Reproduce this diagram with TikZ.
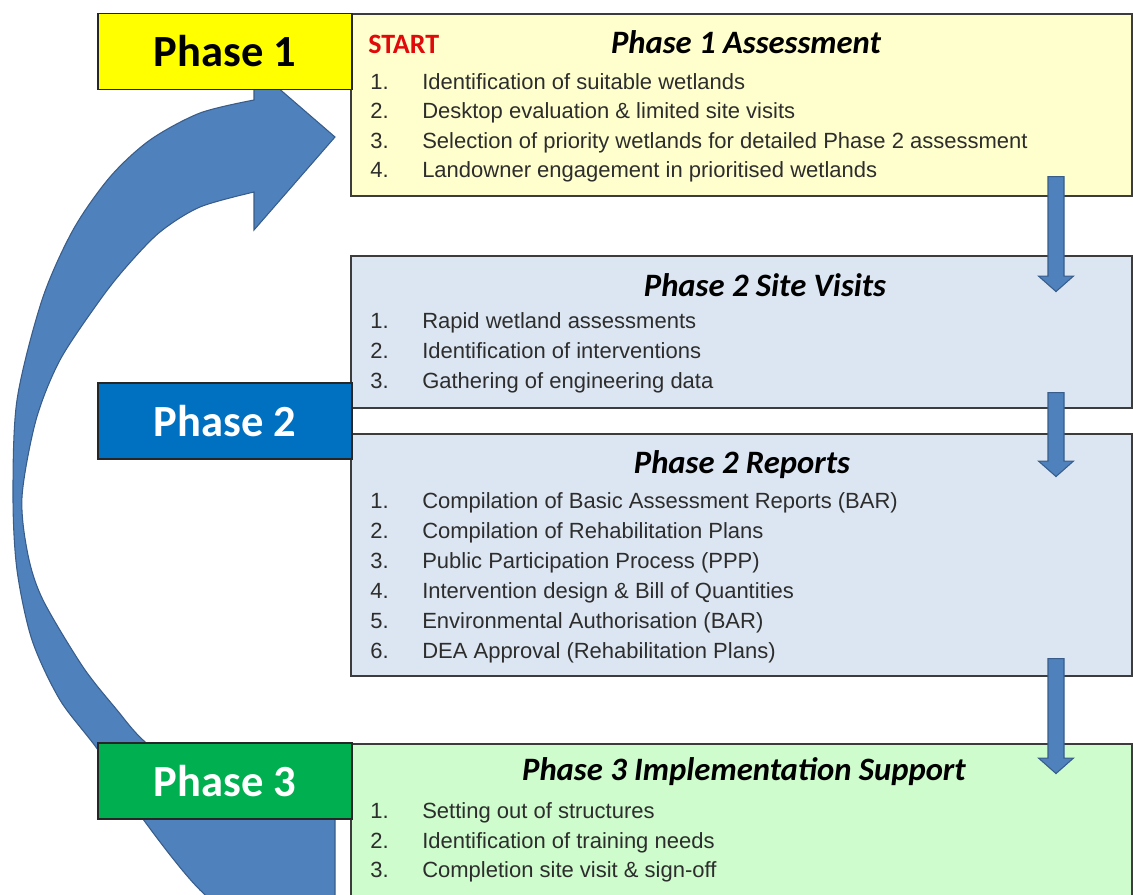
\documentclass[tikz,border=0pt]{standalone}
\usepackage{fontspec}
\setmainfont{Liberation Sans}
\newfontfamily\calfont{Carlito}
\usetikzlibrary{shapes.arrows}

\definecolor{labyellow}{RGB}{255,255,0}
\definecolor{labblue}{RGB}{0,112,192}
\definecolor{labgreen}{RGB}{0,176,80}
\definecolor{boxyellow}{RGB}{255,255,206}
\definecolor{boxblue}{RGB}{220,230,242}
\definecolor{boxgreen}{RGB}{206,252,204}
\definecolor{arrowfill}{RGB}{79,129,189}
\definecolor{arrowline}{RGB}{56,93,138}
\definecolor{itemgrey}{RGB}{45,45,45}
\definecolor{startred}{RGB}{225,10,10}
\definecolor{edgegrey}{RGB}{60,60,60}

\newcommand{\itemno}[1]{\makebox[39pt][l]{#1}}

\tikzset{
  phasebox/.style={draw=edgegrey, line width=1.2pt, anchor=north west,
    minimum width=781*0.75pt, inner sep=0pt},
  phaselabel/.style={draw=black!85, line width=0.9pt, minimum width=254*0.75pt,
    minimum height=76*0.75pt, inner sep=0pt,
    font=\calfont\bfseries\fontsize{33.4}{35}\selectfont},
  boxtitle/.style={anchor=base, inner sep=0pt,
    font=\calfont\bfseries\itshape\fontsize{24.5}{27}\selectfont},
  item/.style={anchor=base west, inner sep=0pt, text=itemgrey,
    font=\fontsize{16.5}{18}\selectfont},
  downarrow/.style={single arrow, draw=arrowline, fill=arrowfill, line width=0.8pt,
    rotate=-90, inner xsep=0pt, inner ysep=5.6pt,
    single arrow head extend=7.1pt, single arrow tip angle=97},
  bigarrow/.style={fill=arrowfill, draw=arrowline, line width=0.8pt}
}

\begin{document}
\begin{tikzpicture}[x=0.75pt,y=-0.75pt]
    \useasboundingbox (0,0) rectangle (1133,894);

    %%%%%%%%%% Curved arrow %%%%%%%%%%
    \begin{scope}
        \clip (0,0) rectangle (1133,894);
        \filldraw[bigarrow] (254,67) -- (335,137) -- (254,230)
            -- plot[smooth] coordinates {(254,192) (200,207) (160,232) (127,266)
                (100,300) (60,360) (36,420) (22,497) (28,555) (43,600) (83,667)
                (117,710) (143,740) (190,777) (250,800) (335,812)}
            -- plot[smooth] coordinates {(335,985) (270,945) (200,890) (140,815)
                (98,750) (60,700) (32,640) (17,570) (13,497) (17,400) (42,300)
                (73,230) (110,177) (150,140) (200,113) (254,100)}
            -- cycle;
    \end{scope}

    %%%%%%%%%% Boxes %%%%%%%%%%
    \node[phasebox, fill=boxyellow, minimum height=182*0.75pt] (p1box) at (350,13) {};
    \node[phasebox, fill=boxblue, minimum height=152*0.75pt] (p2site) at (350,255) {};
    \node[phasebox, fill=boxblue, minimum height=242*0.75pt] (p2rep) at (350,433) {};
    \node[phasebox, fill=boxgreen, minimum height=170*0.75pt] (p3box) at (350,743) {};

    %%%%%%%%%% Labels %%%%%%%%%%
    \node[phaselabel, fill=labyellow, text=black] (lab1) at (225,51.5) {Phase 1};
    \node[phaselabel, fill=labblue, text=white] (lab2) at (225,421) {Phase 2};
    \node[phaselabel, fill=labgreen, text=white] (lab3) at (225,781) {Phase 3};

    %%%%%%%%%% Down arrows %%%%%%%%%%
    \node[downarrow, minimum height=115*0.75pt] (arr1) at (1056,230.5) {};
    \node[downarrow, minimum height=84*0.75pt] (arr2) at (1056,431) {};
    \node[downarrow, minimum height=115*0.75pt] (arr3) at (1056,712.5) {};

    %%%%%%%%%% Phase 1 text %%%%%%%%%%
    \node[anchor=base west, inner sep=0pt, text=startred,
        font=\calfont\bfseries\fontsize{21}{24}\selectfont] (start) at (368,53) {START};
    \node[boxtitle] (t1) at (746,53) {Phase 1 Assessment};
    \node[item] (a1) at (370,89) {\itemno{1.}Identification of suitable wetlands};
    \node[item] (a2) at (370,118.5) {\itemno{2.}Desktop evaluation \& limited site visits};
    \node[item] (a3) at (370,148) {\itemno{3.}Selection of priority wetlands for detailed Phase 2 assessment};
    \node[item] (a4) at (370,177.5) {\itemno{4.}Landowner engagement in prioritised wetlands};

    %%%%%%%%%% Phase 2 text %%%%%%%%%%
    \node[boxtitle] (t2) at (765,296) {Phase 2 Site Visits};
    \node[item] (b1) at (370,328) {\itemno{1.}Rapid wetland assessments};
    \node[item] (b2) at (370,358) {\itemno{2.}Identification of interventions};
    \node[item] (b3) at (370,388) {\itemno{3.}Gathering of engineering data};

    \node[boxtitle] (t3) at (742,473) {Phase 2 Reports};
    \node[item] (c1) at (370,508) {\itemno{1.}Compilation of Basic Assessment Reports (BAR)};
    \node[item] (c2) at (370,538) {\itemno{2.}Compilation of Rehabilitation Plans};
    \node[item] (c3) at (370,568) {\itemno{3.}Public Participation Process (PPP)};
    \node[item] (c4) at (370,598) {\itemno{4.}Intervention design \& Bill of Quantities};
    \node[item] (c5) at (370,628) {\itemno{5.}Environmental Authorisation (BAR)};
    \node[item] (c6) at (370,658) {\itemno{6.}DEA Approval (Rehabilitation Plans)};

    %%%%%%%%%% Phase 3 text %%%%%%%%%%
    \node[boxtitle] (t4) at (744,780) {Phase 3 Implementation Support};
    \node[item] (d1) at (370,818) {\itemno{1.}Setting out of structures};
    \node[item] (d2) at (370,848) {\itemno{2.}Identification of training needs};
    \node[item] (d3) at (370,877) {\itemno{3.}Completion site visit \& sign-off};
\end{tikzpicture}
\end{document}
